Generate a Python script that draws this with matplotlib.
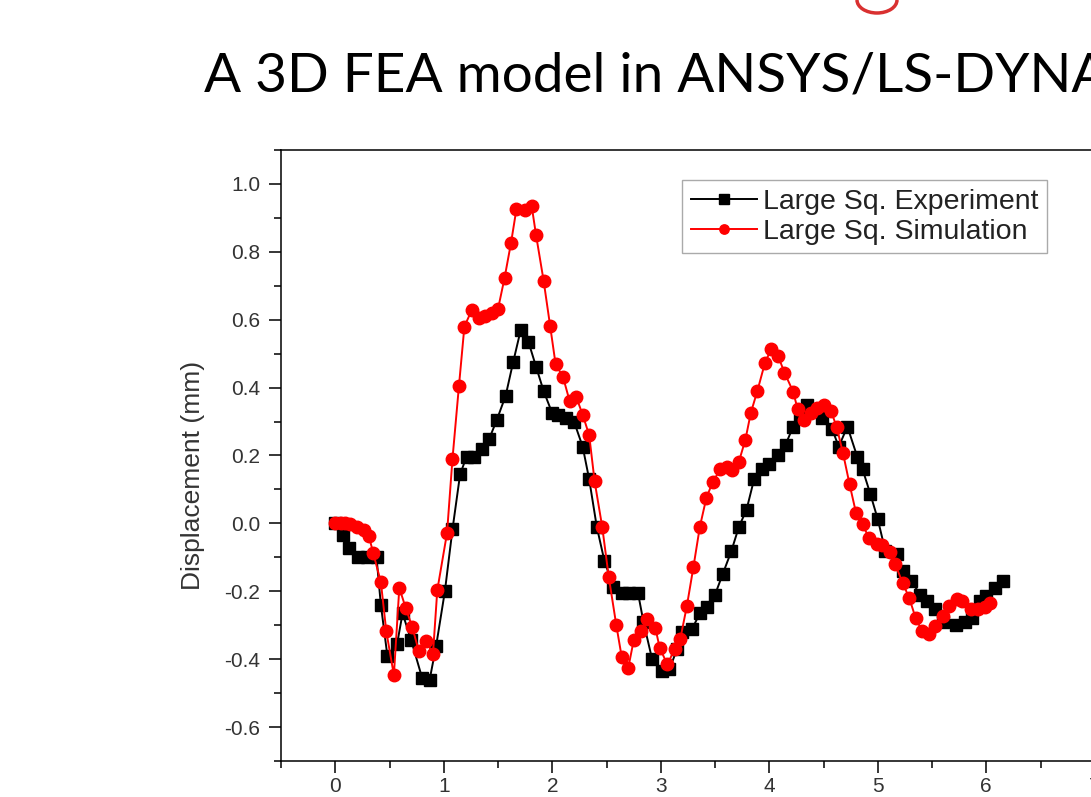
import matplotlib.pyplot as plt
from matplotlib.ticker import MultipleLocator
from matplotlib.patches import Arc

# experiment (black squares)
exp_x = [0.0, 0.07, 0.13, 0.21, 0.29, 0.38, 0.42, 0.48, 0.57, 0.62,
         0.70, 0.80, 0.87, 0.93, 1.01, 1.08, 1.15, 1.21, 1.28, 1.35,
         1.42, 1.49, 1.57, 1.64, 1.71, 1.78, 1.85, 1.92, 2.00, 2.05,
         2.13, 2.20, 2.28, 2.34, 2.41, 2.48, 2.56, 2.64, 2.71, 2.79,
         2.84, 2.92, 3.01, 3.08, 3.15, 3.20, 3.29, 3.36, 3.43, 3.50,
         3.57, 3.65, 3.72, 3.79, 3.86, 3.93, 4.00, 4.08, 4.15, 4.22,
         4.28, 4.35, 4.44, 4.49, 4.58, 4.64, 4.72, 4.81, 4.86, 4.93,
         5.00, 5.07, 5.18, 5.23, 5.31, 5.39, 5.45, 5.53, 5.60, 5.72,
         5.80, 5.87, 5.94, 6.00, 6.08, 6.15]
exp_y = [0.0, -0.035, -0.073, -0.10, -0.10, -0.10, -0.24, -0.39, -0.355, -0.265,
         -0.345, -0.455, -0.46, -0.36, -0.20, -0.018, 0.144, 0.197, 0.197, 0.218,
         0.25, 0.306, 0.376, 0.476, 0.571, 0.535, 0.462, 0.39, 0.324, 0.318,
         0.31, 0.30, 0.226, 0.13, -0.01, -0.11, -0.186, -0.205, -0.205, -0.205,
         -0.29, -0.40, -0.435, -0.43, -0.37, -0.32, -0.31, -0.265, -0.245, -0.21,
         -0.15, -0.082, -0.01, 0.04, 0.13, 0.16, 0.176, 0.20, 0.232, 0.285,
         0.32, 0.35, 0.335, 0.31, 0.277, 0.226, 0.285, 0.197, 0.159, 0.088,
         0.012, -0.082, -0.09, -0.14, -0.17, -0.21, -0.23, -0.253, -0.29, -0.30,
         -0.29, -0.28, -0.23, -0.215, -0.19, -0.17]

# simulation (red circles)
sim_x = [0.0, 0.05, 0.09, 0.14, 0.2, 0.26, 0.31,
         0.35, 0.42, 0.47, 0.54, 0.59, 0.65, 0.71, 0.77, 0.84, 0.90,
         0.94, 1.03, 1.08, 1.14, 1.19, 1.26, 1.32, 1.38, 1.44, 1.50,
         1.56, 1.62, 1.67, 1.75, 1.81, 1.85, 1.92, 1.98, 2.03, 2.10,
         2.16, 2.22, 2.28, 2.34, 2.39, 2.46, 2.52, 2.59, 2.64, 2.70,
         2.75, 2.82, 2.87, 2.95, 2.99, 3.06, 3.13, 3.18, 3.24, 3.30,
         3.36, 3.42, 3.48, 3.55, 3.61, 3.66, 3.72, 3.78, 3.83, 3.89,
         3.96, 4.02, 4.08, 4.14, 4.22, 4.26, 4.32, 4.38, 4.44, 4.50,
         4.57, 4.62, 4.68, 4.74, 4.80, 4.86, 4.92, 4.99, 5.04, 5.11,
         5.16, 5.23, 5.29, 5.35, 5.41, 5.47, 5.53, 5.60, 5.66, 5.73,
         5.78, 5.86, 5.92, 5.99, 6.03]
sim_y = [0.0, 0.0, 0.0, -0.003, -0.01, -0.02, -0.038,
         -0.088, -0.173, -0.318, -0.447, -0.19, -0.25, -0.306, -0.377, -0.347, -0.386,
         -0.197, -0.028, 0.19, 0.406, 0.58, 0.63, 0.606, 0.612, 0.62, 0.632,
         0.723, 0.827, 0.927, 0.923, 0.935, 0.85, 0.715, 0.582, 0.47, 0.43,
         0.36, 0.373, 0.32, 0.26, 0.124, -0.01, -0.157, -0.30, -0.394, -0.426,
         -0.345, -0.318, -0.283, -0.308, -0.367, -0.415, -0.37, -0.34, -0.244, -0.13,
         -0.01, 0.075, 0.123, 0.16, 0.167, 0.158, 0.182, 0.247, 0.326, 0.39,
         0.473, 0.515, 0.494, 0.444, 0.388, 0.338, 0.306, 0.324, 0.341, 0.35,
         0.33, 0.285, 0.206, 0.115, 0.03, -0.003, -0.044, -0.06, -0.063, -0.083,
         -0.12, -0.176, -0.22, -0.28, -0.318, -0.326, -0.303, -0.273, -0.244, -0.224,
         -0.23, -0.253, -0.253, -0.247, -0.235]

title = "A 3D FEA model in ANSYS/LS-DYNA"

plt.rcParams['font.family'] = 'Liberation Sans'

fig = plt.figure(figsize=(10.91, 7.97), dpi=100)

# axes run off the right side of the slide, like the cropped original
ax = fig.add_axes([0.2576, 0.0452, 0.7956, 0.7666])
ax.plot(exp_x, exp_y, color='black', lw=1.4, marker='s', ms=9,
        label='Large Sq. Experiment')
ax.plot(sim_x, sim_y, color='red', lw=1.4, marker='o', ms=9,
        label='Large Sq. Simulation')

ax.set_xlim(-0.5, 7.5)
ax.set_ylim(-0.7, 1.1)
ax.xaxis.set_major_locator(MultipleLocator(1))
ax.xaxis.set_minor_locator(MultipleLocator(0.5))
ax.yaxis.set_major_locator(MultipleLocator(0.2))
ax.yaxis.set_minor_locator(MultipleLocator(0.1))
ax.yaxis.set_major_formatter(plt.FormatStrFormatter('%.1f'))
ax.tick_params(which='major', direction='out', length=8.8, width=1.1,
               labelsize=15, labelcolor='#333333', pad=6)
ax.tick_params(which='minor', direction='out', length=5.3, width=1.1)
ax.tick_params(axis='x', pad=3)
for s in ax.spines.values():
    s.set_linewidth(1.1)

fig.text(193 / 1091, 1 - 475 / 797, 'Displacement (mm)', rotation=90,
         ha='center', va='center', fontsize=19, color='#333333')

leg = ax.legend(loc='upper left', bbox_to_anchor=(682 / 1091, 1 - 180 / 797),
                bbox_transform=fig.transFigure, fontsize=20.5, frameon=True,
                fancybox=False, edgecolor='#aaaaaa', framealpha=1,
                handlelength=2.35, handletextpad=0.2, borderpad=0.3,
                labelspacing=0.15, borderaxespad=0, markerscale=0.75)
leg.get_frame().set_linewidth(1.0)
for t in leg.get_texts():
    t.set_color('#222222')

fig.text(204 / 1091, 1 - 92 / 797, title, ha='left', va='baseline',
         fontsize=39.5, family='Lato', color='black')

# bit of the red logo cut off at the top of the slide
fig.add_artist(Arc((877 / 1091, 1.0), 40 / 1091, 26 / 797, theta1=180, theta2=360,
                   color='#d93030', lw=2.5, transform=fig.transFigure))

fig.savefig('out.png', dpi=100)
